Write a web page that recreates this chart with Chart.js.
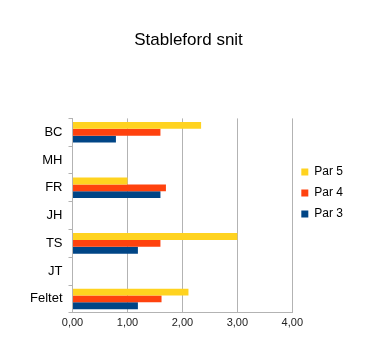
<!DOCTYPE html>
<html lang="da">
<head>
  <meta charset="UTF-8">
  <title>Stableford snit</title>
  <script src="https://cdn.jsdelivr.net/npm/chart.js@4.4.3/dist/chart.umd.min.js"></script>
  <style>
    html, body { margin: 0; padding: 0; background: #fff; }
    #wrap { width: 366px; height: 347px; }
  </style>
</head>
<body>
  <div id="wrap"><canvas id="chart" width="366" height="347"></canvas></div>

  <script>
    const players = ['BC', 'MH', 'FR', 'JH', 'TS', 'JT', 'Feltet'];
    const par5 = [2.34, null, 1.0, null, 3.0, null, 2.11];
    const par4 = [1.6, null, 1.7, null, 1.6, null, 1.62];
    const par3 = [0.79, null, 1.6, null, 1.19, null, 1.19];

    const fmt = v => v.toFixed(2).replace('.', ',');

    new Chart(document.getElementById('chart'), {
      type: 'bar',
      data: {
        labels: players,
        datasets: [
          { label: 'Par 5', data: par5, backgroundColor: '#ffd320' },
          { label: 'Par 4', data: par4, backgroundColor: '#ff420e' },
          { label: 'Par 3', data: par3, backgroundColor: '#004586' }
        ]
      },
      options: {
        indexAxis: 'y',
        responsive: false,
        animation: false,
        layout: { padding: { left: 24, right: 13, top: 0, bottom: 13 } },
        datasets: { bar: { categoryPercentage: 0.74, barPercentage: 1, skipNull: false, borderWidth: 0 } },
        scales: {
          x: {
            min: 0, max: 4,
            ticks: { stepSize: 1, padding: 4, callback: v => fmt(v), color: '#222', font: { family: 'Liberation Sans', size: 11 } },
            grid: { color: '#b3b3b3', drawTicks: false },
            border: { color: '#b3b3b3' }
          },
          y: {
            ticks: { color: '#000', font: { family: 'Liberation Sans', size: 13 }, padding: 6 },
            grid: { offset: true, drawOnChartArea: false, color: '#b3b3b3', tickLength: 4 },
            border: { color: '#b3b3b3' }
          }
        },
        plugins: {
          title: {
            display: true, text: 'Stableford snit', color: '#000',
            font: { family: 'Liberation Sans', size: 17, weight: 'normal' },
            padding: { top: 30, bottom: 68 }
          },
          legend: {
            position: 'right',
            title: { display: true, text: ' ', font: { size: 10 }, padding: { top: 40, bottom: 0 } },
            labels: { boxWidth: 7, boxHeight: 7, padding: 9, color: '#000', font: { family: 'Liberation Sans', size: 12 } }
          },
          tooltip: { enabled: false }
        }
      }
    });
  </script>
</body>
</html>
